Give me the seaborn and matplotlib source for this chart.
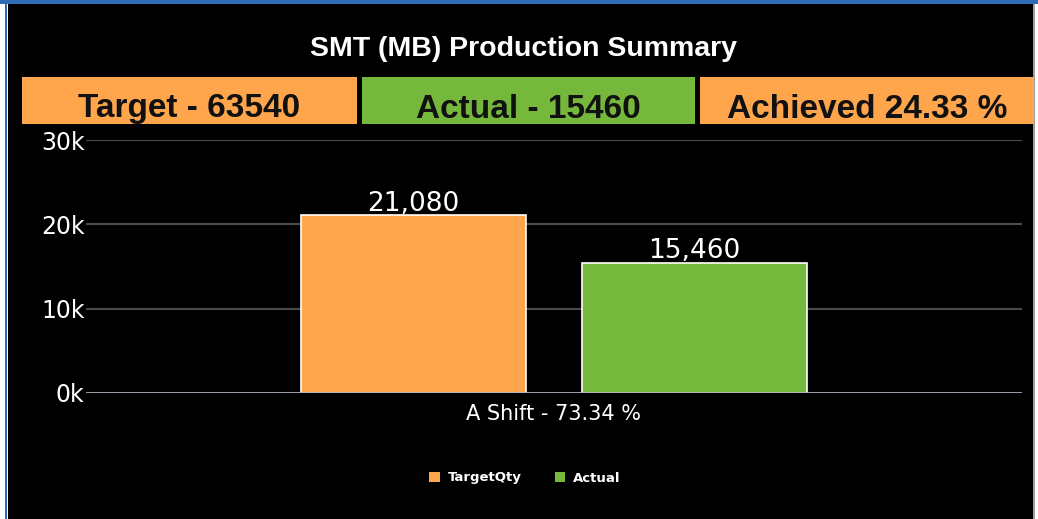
import matplotlib
matplotlib.use("Agg")
import matplotlib.pyplot as plt
import matplotlib.patches as mpatches
import seaborn as sns
import pandas as pd

# data
categories = ["A Shift - 73.34 %"]
series = ["TargetQty", "Actual"]
values = [21080, 15460]
header_texts = ["Target - 63540", "Actual - 15460", "Achieved 24.33 %"]
yticks = [0, 10000, 20000, 30000]
ytick_labels = ["0k", "10k", "20k", "30k"]

orange = "#FFA54C"
green = "#76B83C"
header_colors = [orange, green, orange]

df = pd.DataFrame({
    "Shift": categories * len(series),
    "Series": series,
    "Qty": values,
})

sns.set_style("dark")
plt.rcParams["font.family"] = ["DejaVu Sans"]

fig = plt.figure(figsize=(10.38, 5.19), dpi=100)
fig.patch.set_facecolor("white")

# black panel with the blue frame
fig.add_artist(mpatches.Rectangle((8 / 1038, 0), 1025 / 1038, 515 / 519,
                                  transform=fig.transFigure, facecolor="black",
                                  edgecolor="none", zorder=0))
fig.add_artist(mpatches.Rectangle((0, 515 / 519), 1, 4 / 519,
                                  transform=fig.transFigure, facecolor="#2E6DB4",
                                  edgecolor="none", zorder=0))
fig.add_artist(mpatches.Rectangle((5 / 1038, 0), 2 / 1038, 515 / 519,
                                  transform=fig.transFigure, facecolor="#2E6DB4",
                                  edgecolor="none", zorder=0))
fig.add_artist(mpatches.Rectangle((1033 / 1038, 0), 1.5 / 1038, 515 / 519,
                                  transform=fig.transFigure, facecolor="#9aa0a8",
                                  edgecolor="none", zorder=0))

fig.text(523 / 1038, 1 - 49 / 519, "SMT (MB) Production Summary",
         ha="center", va="center", color="white", fontsize=20.5, fontweight="bold",
         family=["Liberation Sans", "DejaVu Sans"])

# header boxes
box_edges = [(22, 357), (362, 695), (700, 1034)]
for (x0, x1), txt, col in zip(box_edges, header_texts, header_colors):
    fig.add_artist(mpatches.Rectangle((x0 / 1038, 1 - 124 / 519), (x1 - x0) / 1038,
                                      47 / 519, transform=fig.transFigure,
                                      facecolor=col, edgecolor="none", zorder=1))
    fig.text((x0 + x1) / 2 / 1038, 1 - 109 / 519, txt, ha="center", va="center",
             color="#111111", fontsize=24, fontweight="bold",
             family=["Liberation Sans", "DejaVu Sans"], zorder=2)

ax = fig.add_axes([86 / 1038, 1 - 393 / 519, 936 / 1038, 253 / 519])
ax.set_facecolor("black")

sns.barplot(data=df, x="Shift", y="Qty", hue="Series", palette=[orange, green],
            saturation=1, width=0.6, gap=0.2, edgecolor="white", linewidth=1.2,
            ax=ax, legend=False, zorder=3)

for container, val in zip(ax.containers, values):
    ax.bar_label(container, labels=[f"{val:,}"], color="white", fontsize=19,
                 padding=-1)

ax.set_ylim(0, 30000)
ax.set_xlim(-0.5, 0.5)
ax.set_yticks(yticks)
ax.set_yticklabels(ytick_labels)
ax.tick_params(axis="y", length=0, pad=1, labelcolor="white", labelsize=17)
ax.tick_params(axis="x", length=0, pad=8, labelcolor="white", labelsize=15)
ax.set_xlabel("")
ax.set_ylabel("")
ax.grid(False)
for y in yticks[1:]:
    ax.axhline(y, color="#4a4a4a", linewidth=1.5, zorder=1)
ax.axhline(0, color="#a8b0bc", linewidth=2, zorder=4)
for s in ax.spines.values():
    s.set_visible(False)

handles = [mpatches.Patch(facecolor=c, edgecolor="none") for c in [orange, green]]
fig.legend(handles, series, loc="center", bbox_to_anchor=(525 / 1038, 1 - 478 / 519),
           ncol=2, frameon=False, handlelength=0.8, handleheight=0.8,
           columnspacing=2.5, handletextpad=0.6,
           prop={"size": 9.5, "weight": "bold", "family": "DejaVu Sans"},
           labelcolor="white")

fig.savefig("out.png", dpi=100, facecolor=fig.get_facecolor())
